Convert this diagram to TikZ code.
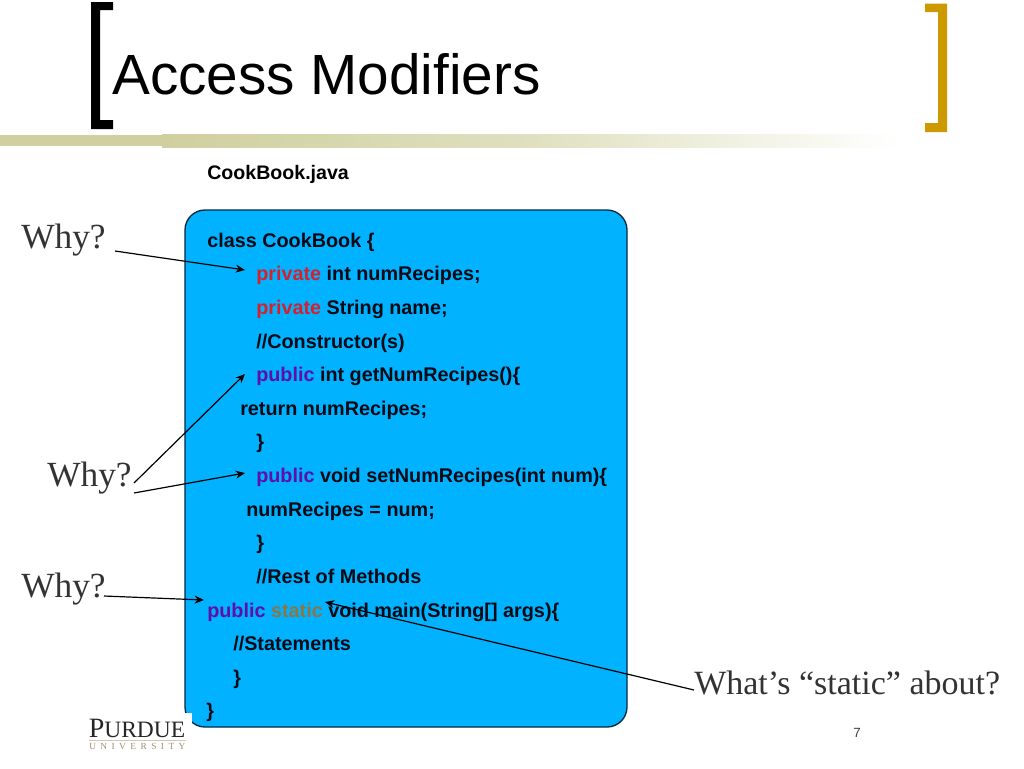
\documentclass[tikz,border=0pt]{standalone}
\usepackage{fontspec}
\setmainfont{Liberation Sans}
\newfontfamily\serifface{Liberation Serif}
\definecolor{boxblue}{HTML}{00B2FF}
\definecolor{olivebar}{HTML}{CFCF9F}
\definecolor{goldbr}{HTML}{CC9900}
\definecolor{kwred}{HTML}{D4212E}
\definecolor{kwpurple}{HTML}{5F0FA8}
\definecolor{kwbrown}{HTML}{8C7648}
\definecolor{inkcode}{HTML}{000A14}
\newcommand{\kwpriv}{\textcolor{kwred}{private}}
\newcommand{\kwpub}{\textcolor{kwpurple}{public}}
\usetikzlibrary{arrows.meta}
\tikzset{
  x=0.75pt,y=-0.75pt,
  code/.style={anchor=base west,inner sep=0,yshift=-0.4pt,text=inkcode,font=\bfseries\fontsize{14.85pt}{15pt}\selectfont},
  why/.style={anchor=base west,inner sep=0,text=black!80,font=\serifface\fontsize{26.5pt}{27pt}\selectfont},
  conn/.style={draw=black,line width=0.9pt,-{Stealth[length=7pt,width=6pt]}},
}
\begin{document}
\begin{tikzpicture}
\useasboundingbox (0,0) rectangle (1024,768);
\fill[white] (0,0) rectangle (1024,768);
% header band
\fill[olivebar] (0,135) rectangle (162,146);
\fill[left color=olivebar,right color=white,middle color=olivebar!65] (162,134) rectangle (900,147);
% brackets
\fill[black] (91,2) -- (113,2) -- (113,10) -- (100,10) -- (100,120) -- (113,120) -- (113,129) -- (91,129) -- cycle;
\fill[goldbr] (947,3.5) -- (925,3.5) -- (925,12) -- (938,12) -- (938,123) -- (925,123) -- (925,132) -- (947,132) -- cycle;
\node[anchor=base west,inner sep=0,font=\fontsize{42.5pt}{43pt}\selectfont] (title) at (112,94) {Access Modifiers};
\node[code,text=black,font=\bfseries\fontsize{14.7pt}{15pt}\selectfont] (fname) at (207,179) {CookBook.java};
% code box
\draw[fill=boxblue,draw=inkcode!80!boxblue,line width=1pt,rounded corners=15pt] (185,210) rectangle (627,727);
\node[code] (l1) at (207,246.5) {class CookBook \{};
\node[code] (l2) at (256,280) {\kwpriv{} int numRecipes;};
\node[code] (l3) at (256,313.5) {\kwpriv{} String name;};
\node[code] (l4) at (256,347.5) {//Constructor(s)};
\node[code] (l5) at (256,381) {\kwpub{} int getNumRecipes()\{};
\node[code] (l6) at (240,414.5) {return numRecipes;};
\node[code] (l7) at (256,448) {\}};
\node[code] (l8) at (256,482) {\kwpub{} void setNumRecipes(int num)\{};
\node[code] (l9) at (246,515.5) {numRecipes = num;};
\node[code] (l10) at (256,549) {\}};
\node[code] (l11) at (256,582.5) {//Rest of Methods};
\node[code] (l12) at (207,616.5) {\kwpub{} \textcolor{kwbrown}{static} void main(String[] args)\{};
\node[code] (l13) at (233,650) {//Statements};
\node[code] (l14) at (233,683.5) {\}};
\node[code] (l15) at (206,717) {\}};
% logo
\fill[white] (0,713) rectangle (192,768);
\node[anchor=base west,inner sep=0,text=black!85,font=\serifface\fontsize{21pt}{21pt}\selectfont] (logo) at (88.5,737) {P\fontsize{17.6pt}{18pt}\selectfont URDUE};
\fill[kwbrown!40] (89,740) rectangle (186,741);
\node[anchor=base west,inner sep=0,text=kwbrown!80,font=\serifface\fontsize{7pt}{7pt}\selectfont] (logosub) at (89,749.5) {U\hspace{3.35pt}N\hspace{3.35pt}I\hspace{3.35pt}V\hspace{3.35pt}E\hspace{3.35pt}R\hspace{3.35pt}S\hspace{3.35pt}I\hspace{3.35pt}T\hspace{3.35pt}Y};
\node[anchor=base,inner sep=0,text=black!75,font=\fontsize{10pt}{10pt}\selectfont] (pageno) at (857,737) {7};
% labels
\node[why] (w1) at (21,248.5) {Why?};
\node[why] (w2) at (47,486.5) {Why?};
\node[why] (w3) at (21,597.5) {Why?};
\node[anchor=base west,inner sep=0,text=black!80,font=\serifface\fontsize{25.5pt}{26pt}\selectfont] (w4) at (694,694.5) {What’s “static” about?};
% connector ends
\coordinate (s1) at (115,251);
\coordinate (t1) at (245,270);
\coordinate (s2) at (134,483);
\coordinate (t2) at (245,374);
\coordinate (s3) at (134,493);
\coordinate (t3) at (245,473);
\coordinate (s4) at (104,596);
\coordinate (t4) at (204,600);
\coordinate (s5) at (694,690);
\coordinate (t5) at (325,602);
\draw[conn] (s1) -- (t1);
\draw[conn] (s2) -- (t2);
\draw[conn] (s3) -- (t3);
\draw[conn] (s4) -- (t4);
\draw[conn] (s5) -- (t5);
\end{tikzpicture}
\end{document}
